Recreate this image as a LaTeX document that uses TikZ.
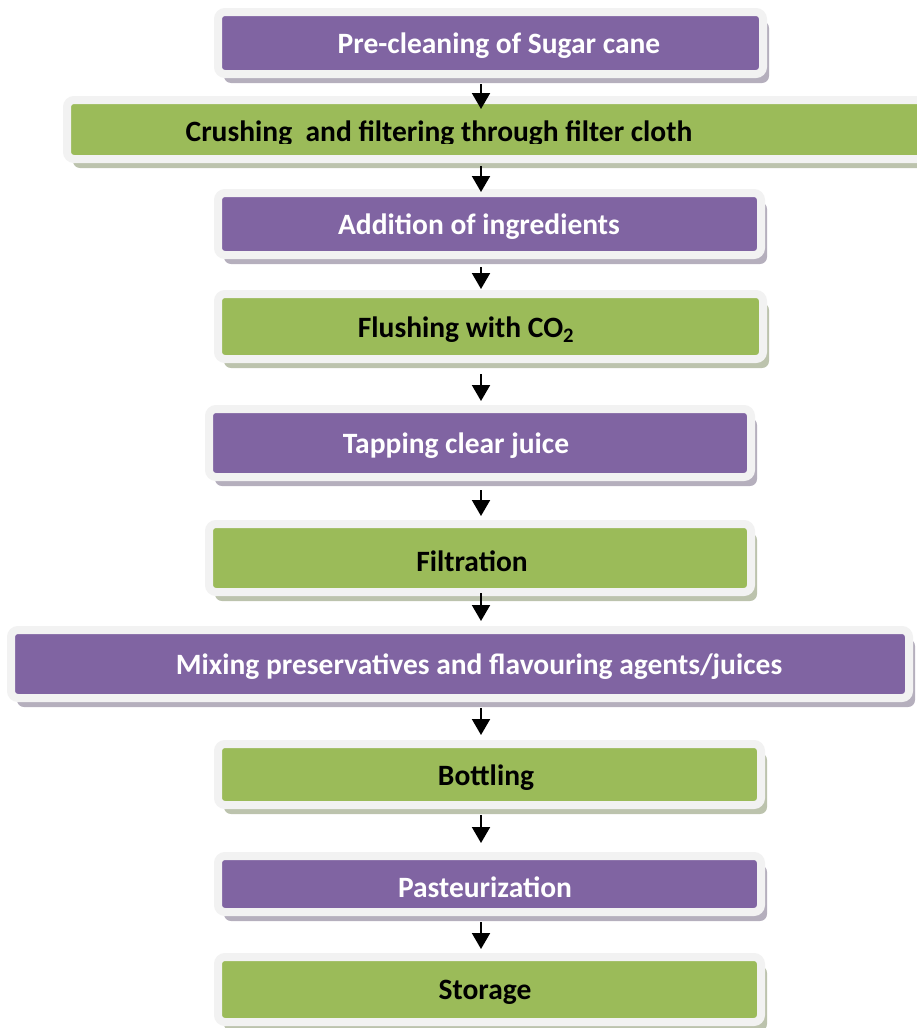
\documentclass[tikz,border=0pt]{standalone}
\usepackage{fontspec}
\setmainfont{Carlito}
\usetikzlibrary{arrows.meta,positioning,shadows}
\definecolor{stepPurple}{HTML}{8064A2}
\definecolor{stepGreen}{HTML}{9BBB59}
\definecolor{rimGray}{HTML}{F2F2F2}

\begin{document}
\begin{tikzpicture}[x=1pt,y=-1pt, every node/.style={font=\fontsize{29.5}{35}\selectfont\bfseries},
  box/.style={draw=rimGray,line width=8pt,rounded corners=7pt,inner sep=0pt},
  pbox/.style={box,fill=stepPurple,drop shadow={shadow xshift=6pt,shadow yshift=-9pt,fill=stepPurple!35!white!65!gray,opacity=1}},
  gbox/.style={box,fill=stepGreen,drop shadow={shadow xshift=6pt,shadow yshift=-9pt,fill=stepGreen!35!white!65!gray,opacity=1}},
  wtxt/.style={text=white,yshift=-3pt}, btxt/.style={text=black,yshift=-3pt},
  arr/.style={line width=2pt,-{Triangle[length=16pt,width=18pt]}}]
\useasboundingbox (0,0) rectangle (917,1028);
\clip (0,0) rectangle (917,1028);
\coordinate (ax) at (481,0);
% process steps
\node[pbox,minimum width=545pt,minimum height=62pt,label={[wtxt,name=t1,xshift=8.5pt]center:Pre-cleaning of Sugar cane}] (clean) at (490.5,43) {};
\node[gbox,minimum width=859pt,minimum height=59pt] (crush) at (496.5,129.5) {};
\begin{scope}
  \clip (crush.north west) rectangle (917,143);
  \node[text=black,anchor=base] (t2) at (439,141.5) {Crushing\ \ and filtering through filter cloth};
\end{scope}
\node[pbox,minimum width=543pt,minimum height=62pt,label={[wtxt,name=t3,xshift=-10.5pt]center:Addition of ingredients}] (add) at (489.5,224) {};
\node[gbox,minimum width=545pt,minimum height=65pt,label={[btxt,name=t4,xshift=-24.5pt]center:Flushing with CO\textsubscript{2}}] (flush) at (490.5,326.5) {};
\node[pbox,minimum width=542pt,minimum height=68pt,label={[wtxt,name=t5,xshift=-24pt]center:Tapping clear juice}] (tap) at (480,443) {};
\node[gbox,minimum width=542pt,minimum height=68pt,label={[btxt,name=t6,xshift=-8pt]center:Filtration}] (filt) at (480,558) {};
\node[pbox,minimum width=898pt,minimum height=68pt,label={[wtxt,name=t7,xshift=19pt]center:Mixing preservatives and flavouring agents/juices}] (mix) at (460,664) {};
\node[gbox,minimum width=543pt,minimum height=61pt,label={[btxt,name=t8,xshift=-3.5pt]center:Bottling}] (bottle) at (489.5,774.5) {};
\node[pbox,minimum width=543pt,minimum height=56pt,label={[wtxt,name=t9,xshift=-4.5pt]center:Pasteurization}] (past) at (489.5,884) {};
\node[gbox,minimum width=543pt,minimum height=65pt,label={[btxt,name=t10,xshift=-4.5pt]center:Storage}] (store) at (489.5,989.5) {};
% arrows
\draw[arr,shorten <=6pt,shorten >=-13pt] (clean.south -| ax) -- (crush.north -| ax);
\draw[arr,shorten <=3pt,shorten >=-3pt] (crush.south -| ax) -- (add.north -| ax);
\draw[arr,shorten <=8pt,shorten >=1pt] (add.south -| ax) -- (flush.north -| ax);
\draw[arr,shorten <=11pt,shorten >=4pt] (flush.south -| ax) -- (tap.north -| ax);
\draw[arr,shorten <=9pt,shorten >=4pt] (tap.south -| ax) -- (filt.north -| ax);
\draw[arr,shorten <=-3pt,shorten >=5pt] (filt.south -| ax) -- (mix.north -| ax);
\draw[arr,shorten <=6pt,shorten >=5pt] (mix.south -| ax) -- (bottle.north -| ax);
\draw[arr,shorten <=6pt,shorten >=9pt] (bottle.south -| ax) -- (past.north -| ax);
\draw[arr,shorten <=6pt,shorten >=4pt] (past.south -| ax) -- (store.north -| ax);
\end{tikzpicture}
\end{document}
